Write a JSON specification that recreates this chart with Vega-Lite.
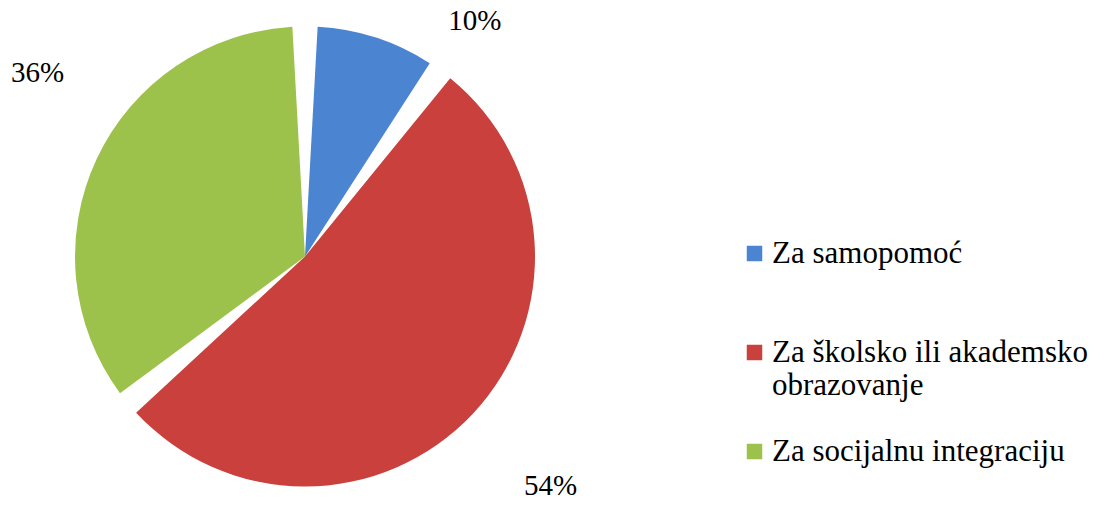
{
  "$schema": "https://vega.github.io/schema/vega-lite/v6.json",
  "width": 610,
  "height": 513,
  "padding": {"left": 0, "top": 0, "right": 489, "bottom": 0},
  "autosize": {"type": "none"},
  "background": "white",
  "data": {
    "values": [
      {"category": "Za samopomoć", "share": 10, "label": "10%", "rank": 1},
      {"category": "Za školsko ili akademsko obrazovanje", "share": 54, "label": "54%", "rank": 2},
      {"category": "Za socijalnu integraciju", "share": 36, "label": "36%", "rank": 3}
    ]
  },
  "encoding": {
    "theta": {"field": "share", "type": "quantitative", "stack": true},
    "order": {"field": "rank", "type": "quantitative"}
  },
  "layer": [
    {
      "mark": {"type": "arc", "radius": 230, "padAngle": 0.11, "strokeWidth": 0},
      "encoding": {
        "color": {
          "field": "category",
          "type": "nominal",
          "scale": {
            "domain": ["Za samopomoć", "Za školsko ili akademsko obrazovanje", "Za socijalnu integraciju"],
            "range": ["#4b84d0", "#c9403d", "#9dc24b"]
          },
          "legend": {
            "orient": "none",
            "legendX": 739,
            "legendY": 238,
            "title": null,
            "symbolType": "square",
            "symbolSize": 240,
            "symbolStrokeWidth": 0,
            "labelFont": "Liberation Serif",
            "labelFontSize": 31,
            "labelColor": "#000000",
            "labelLimit": 400,
            "labelOffset": 2,
            "labelBaseline": "middle",
            "gridAlign": "all",
            "rowPadding": 34,
            "labelExpr": "datum.label == 'Za školsko ili akademsko obrazovanje' ? ['Za školsko ili akademsko', 'obrazovanje'] : datum.label"
          }
        }
      }
    },
    {
      "mark": {"type": "text", "radius": 300, "dx": 77, "dy": 50, "font": "Liberation Serif", "fontSize": 29, "color": "#000000"},
      "encoding": {
        "text": {"condition": {"test": "datum.rank === 1", "field": "label"}, "value": ""}
      }
    },
    {
      "mark": {"type": "text", "radius": 330, "dx": 5, "dy": 4, "font": "Liberation Serif", "fontSize": 29, "color": "#000000"},
      "encoding": {
        "text": {"condition": {"test": "datum.rank === 2", "field": "label"}, "value": ""}
      }
    },
    {
      "mark": {"type": "text", "radius": 300, "dx": 4, "dy": -56, "font": "Liberation Serif", "fontSize": 29, "color": "#000000"},
      "encoding": {
        "text": {"condition": {"test": "datum.rank === 3", "field": "label"}, "value": ""}
      }
    }
  ],
  "config": {"view": {"stroke": null}}
}
